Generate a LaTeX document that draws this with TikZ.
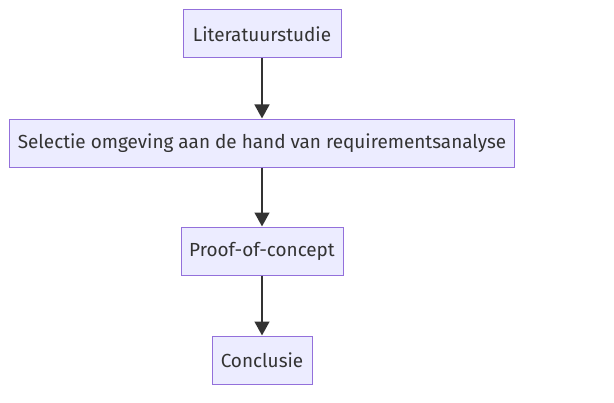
\documentclass[tikz,border=0pt]{standalone}
\usepackage{fontspec}
\setmainfont{Fira Sans}
\usetikzlibrary{arrows.meta}
\begin{document}
\begin{tikzpicture}[x=0.75pt,y=-0.75pt,
  box/.style={draw=mmstroke,fill=mmfill,line width=0.75pt,inner sep=0pt,minimum height=36pt,text=mmtext,font=\fontsize{14.2}{16}\selectfont},
  flow/.style={draw=mmline,line width=1.8pt,-{Triangle[length=10.5pt,width=11pt]}}]
\definecolor{mmstroke}{HTML}{9370DB}
\definecolor{mmfill}{HTML}{ECECFF}
\definecolor{mmtext}{HTML}{333333}
\definecolor{mmline}{HTML}{333333}
\useasboundingbox (0,0) rectangle (614,403);
\node[box,minimum width=118.5pt] (a) at (262,34) {Literatuurstudie};
\node[box,minimum width=378.75pt] (b) at (262,143) {Selectie omgeving aan de hand van requirementsanalyse};
\node[box,minimum width=121.5pt] (c) at (262,251) {Proof-of-concept};
\node[box,minimum width=75pt] (d) at (262,360) {Conclusie};
\draw[flow] (a) -- (b);
\draw[flow] (b) -- (c);
\draw[flow] (c) -- (d);
\end{tikzpicture}
\end{document}
